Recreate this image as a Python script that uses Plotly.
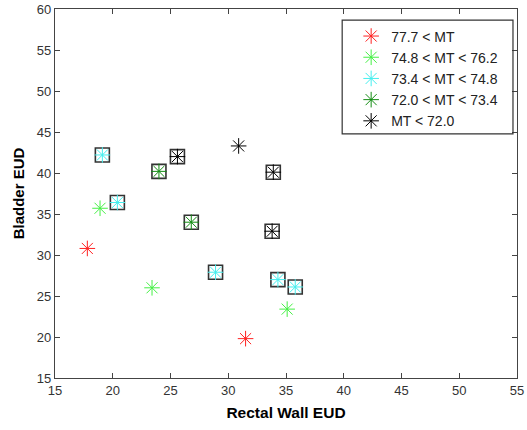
import plotly.graph_objects as go

# Data (Rectal Wall EUD, Bladder EUD) per MT group
red_x = [17.8, 31.5]
red_y = [30.8, 19.8]
green_x = [18.9, 23.4, 35.1]
green_y = [35.7, 26.0, 23.4]
cyan_x = [19.1, 20.4, 28.9, 34.3, 35.8]
cyan_y = [42.2, 36.4, 27.9, 27.0, 26.1]
dgreen_x = [24.0, 26.8]
dgreen_y = [40.2, 34.0]
black_x = [25.6, 30.9, 33.9, 33.8]
black_y = [42.0, 43.3, 40.1, 32.9]

# Boxed points
box_x = [19.1, 20.4, 28.9, 34.3, 35.8, 24.0, 26.8, 25.6, 33.9, 33.8]
box_y = [42.2, 36.4, 27.9, 27.0, 26.1, 40.2, 34.0, 42.0, 40.1, 32.9]

labels = ["77.7 < MT", "74.8 < MT < 76.2", "73.4 < MT < 74.8", "72.0 < MT < 73.4", "MT < 72.0"]
colors = ["#ff2020", "#44f044", "#44eeee", "#128c12", "#000000"]
series = [(red_x, red_y), (green_x, green_y), (cyan_x, cyan_y), (dgreen_x, dgreen_y), (black_x, black_y)]

fig = go.Figure()

fig.add_trace(go.Scatter(
    x=box_x, y=box_y, mode="markers", showlegend=False, hoverinfo="skip",
    marker=dict(symbol="square-open", size=14, color="#333333", line=dict(width=1.6, color="#333333")),
))

for (xs, ys), lab, col in zip(series, labels, colors):
    fig.add_trace(go.Scatter(
        x=xs, y=ys, mode="markers", name=lab,
        marker=dict(symbol="asterisk-open", size=13, color=col, line=dict(width=1.0, color=col)),
    ))

axis_common = dict(
    showgrid=False, zeroline=False, showline=True, linecolor="#444444", linewidth=1.3,
    mirror="ticks", ticks="inside", ticklen=5, tickcolor="#444444", tickwidth=1,
    dtick=5, automargin=False,
    tickfont=dict(family="Liberation Sans, Arial", size=13, color="#333333"),
)

fig.update_layout(
    width=527, height=430,
    margin=dict(l=55, r=10, t=9, b=52),
    paper_bgcolor="white", plot_bgcolor="white",
    xaxis=dict(range=[15, 55], tick0=15,
               title=dict(text="<b>Rectal Wall EUD</b>", standoff=10,
                          font=dict(family="Liberation Sans, Arial", size=15.5, color="#000")),
               **axis_common),
    yaxis=dict(range=[15, 60], tick0=15,
               title=dict(text="<b>Bladder EUD</b>", standoff=8,
                          font=dict(family="Liberation Sans, Arial", size=15, color="#000")),
               **axis_common),
    legend=dict(x=0.641, y=0.969, xanchor="left", yanchor="top",
                borderwidth=0, bgcolor="rgba(0,0,0,0)",
                font=dict(family="Liberation Sans, Arial", size=14, color="#222222"),
                tracegroupgap=0),
    shapes=[dict(type="rect", xref="paper", yref="paper",
                 x0=0.6216, x1=0.9913, y0=0.6615, y1=0.970,
                 line=dict(color="#333333", width=1.2), fillcolor="rgba(0,0,0,0)", layer="above")],
    showlegend=True,
)

fig.write_html("out.html")
